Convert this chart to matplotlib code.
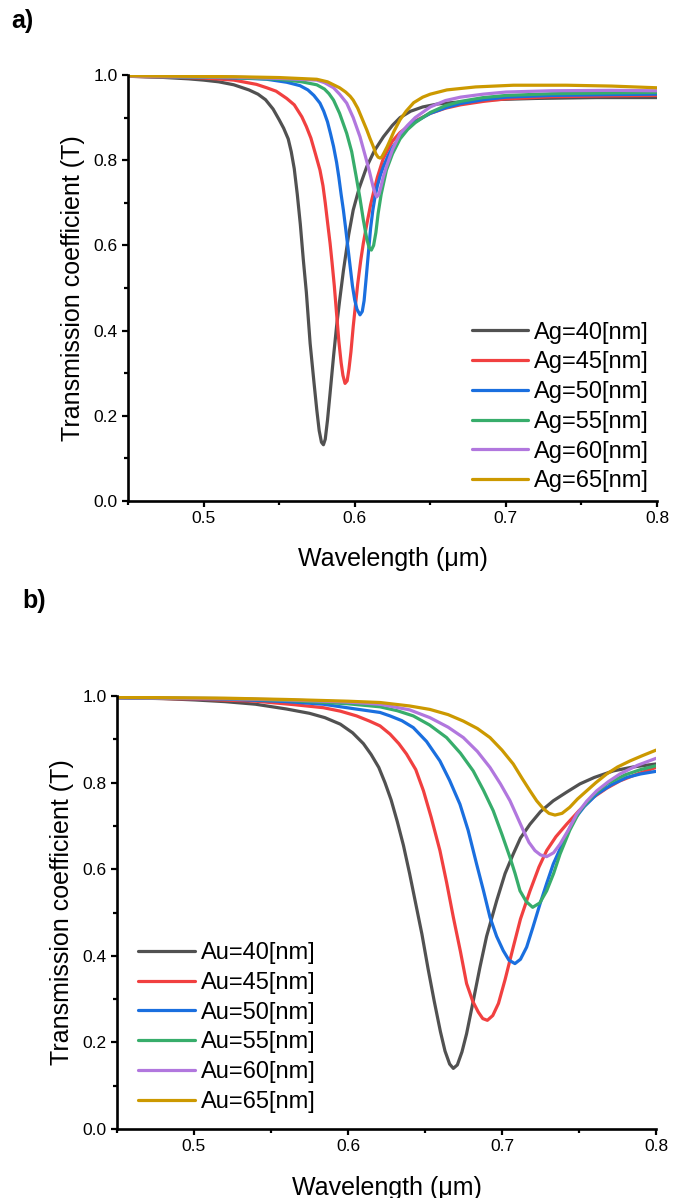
import matplotlib
matplotlib.use("Agg")
import matplotlib.pyplot as plt
from matplotlib.ticker import MultipleLocator

plt.rcParams['font.family'] = ['Liberation Sans', 'DejaVu Sans']

# ---------------- Panel a) : Ag thickness ----------------
ag_labels = ["Ag=40[nm]", "Ag=45[nm]", "Ag=50[nm]", "Ag=55[nm]", "Ag=60[nm]", "Ag=65[nm]"]

ag40_wl = [0.45, 0.47, 0.49, 0.50, 0.51, 0.52, 0.53, 0.536, 0.541, 0.546, 0.55, 0.553, 0.556,
           0.558, 0.56, 0.562, 0.564, 0.566, 0.568, 0.5705, 0.573, 0.5749, 0.5765, 0.578,
           0.5793, 0.5805, 0.582, 0.5837, 0.586, 0.588, 0.590, 0.5925, 0.596, 0.599, 0.603,
           0.608, 0.613, 0.619, 0.625, 0.63, 0.637, 0.645, 0.655, 0.67, 0.69, 0.72, 0.76, 0.80]
ag40_t = [0.997, 0.995, 0.991, 0.988, 0.984, 0.977, 0.965, 0.955, 0.942, 0.92, 0.895, 0.875, 0.85,
          0.82, 0.78, 0.72, 0.65, 0.566, 0.49, 0.37, 0.28, 0.214, 0.165, 0.138,
          0.132, 0.145, 0.19, 0.253, 0.34, 0.41, 0.47, 0.54, 0.625, 0.683, 0.735,
          0.785, 0.822, 0.855, 0.882, 0.90, 0.915, 0.925, 0.932, 0.937, 0.942, 0.945, 0.947, 0.947]

ag45_wl = [0.45, 0.50, 0.52, 0.535, 0.5418, 0.548, 0.555, 0.56, 0.565, 0.568, 0.571, 0.574,
           0.577, 0.579, 0.5805, 0.582, 0.5837, 0.585, 0.5865, 0.588, 0.5895, 0.591, 0.5922,
           0.5936, 0.595, 0.5962, 0.5975, 0.599, 0.6005, 0.602, 0.604, 0.6057, 0.608, 0.6105,
           0.6123, 0.615, 0.619, 0.625, 0.63, 0.64, 0.65, 0.66, 0.67, 0.685, 0.70, 0.73, 0.77, 0.80]
ag45_t = [0.997, 0.993, 0.988, 0.978, 0.970, 0.962, 0.945, 0.93, 0.902, 0.879, 0.852, 0.815,
          0.777, 0.74, 0.70, 0.655, 0.605, 0.56, 0.505, 0.44, 0.375, 0.325, 0.295,
          0.276, 0.282, 0.31, 0.35, 0.409, 0.46, 0.51, 0.565, 0.605, 0.65, 0.695,
          0.722, 0.76, 0.805, 0.845, 0.865, 0.892, 0.91, 0.922, 0.93, 0.938, 0.944, 0.949, 0.951, 0.952]

ag50_wl = [0.45, 0.50, 0.53, 0.5418, 0.555, 0.5638, 0.569, 0.573, 0.577, 0.5795, 0.582, 0.584,
           0.586, 0.588, 0.5895, 0.591, 0.5925, 0.594, 0.5955, 0.597, 0.5985, 0.600, 0.6015,
           0.6035, 0.605, 0.6062, 0.6075, 0.609, 0.6105, 0.612, 0.6135, 0.615, 0.617, 0.619,
           0.622, 0.625, 0.63, 0.635, 0.64, 0.65, 0.66, 0.67, 0.685, 0.70, 0.73, 0.77, 0.80]
ag50_t = [0.997, 0.995, 0.992, 0.99, 0.983, 0.975, 0.965, 0.952, 0.934, 0.915, 0.89, 0.862,
          0.832, 0.795, 0.76, 0.72, 0.683, 0.64, 0.595, 0.55, 0.505, 0.472, 0.45,
          0.437, 0.445, 0.47, 0.52, 0.58, 0.64, 0.683, 0.715, 0.74, 0.765, 0.785,
          0.81, 0.83, 0.855, 0.875, 0.89, 0.91, 0.923, 0.933, 0.942, 0.948, 0.952, 0.954, 0.955]

ag55_wl = [0.45, 0.52, 0.55, 0.565, 0.5749, 0.58, 0.583, 0.586, 0.59, 0.5947, 0.598, 0.601,
           0.6035, 0.6057, 0.608, 0.6095, 0.611, 0.6125, 0.614, 0.6155, 0.6175, 0.621, 0.625,
           0.63, 0.635, 0.64, 0.65, 0.66, 0.67, 0.685, 0.70, 0.73, 0.77, 0.80]
ag55_t = [0.997, 0.994, 0.99, 0.984, 0.977, 0.967, 0.956, 0.941, 0.91, 0.863, 0.82, 0.761,
          0.71, 0.66, 0.615, 0.595, 0.589, 0.60, 0.63, 0.675, 0.72, 0.777, 0.815,
          0.85, 0.872, 0.888, 0.912, 0.928, 0.938, 0.947, 0.952, 0.956, 0.958, 0.959]

ag60_wl = [0.45, 0.52, 0.55, 0.5749, 0.58, 0.586, 0.59, 0.5947, 0.599, 0.6035, 0.607, 0.61,
           0.612, 0.6135, 0.6146, 0.616, 0.6175, 0.619, 0.621, 0.625, 0.63, 0.635, 0.64, 0.65,
           0.66, 0.67, 0.685, 0.70, 0.73, 0.77, 0.80]
ag60_t = [0.997, 0.995, 0.992, 0.988, 0.982, 0.97, 0.955, 0.934, 0.90, 0.855, 0.81, 0.77,
          0.74, 0.722, 0.714, 0.72, 0.74, 0.762, 0.785, 0.825, 0.862, 0.882, 0.90, 0.925,
          0.94, 0.948, 0.955, 0.96, 0.963, 0.964, 0.963]

ag65_wl = [0.45, 0.52, 0.55, 0.5749, 0.582, 0.586, 0.59, 0.594, 0.597, 0.599, 0.602, 0.604,
           0.606, 0.608, 0.61, 0.6123, 0.614, 0.6155, 0.6168, 0.618, 0.6195, 0.6215, 0.6234,
           0.626, 0.63, 0.634, 0.639, 0.645, 0.65, 0.661, 0.68, 0.705, 0.74, 0.77, 0.80]
ag65_t = [0.998, 0.996, 0.994, 0.99, 0.984, 0.977, 0.97, 0.96, 0.95, 0.941, 0.922, 0.905,
          0.888, 0.871, 0.852, 0.832, 0.815, 0.807, 0.805, 0.808, 0.818, 0.832, 0.847,
          0.868, 0.895, 0.915, 0.935, 0.948, 0.955, 0.965, 0.972, 0.976, 0.976, 0.974, 0.970]

# ---------------- Panel b) : Au thickness ----------------
au_labels = ["Au=40[nm]", "Au=45[nm]", "Au=50[nm]", "Au=55[nm]", "Au=60[nm]", "Au=65[nm]"]

au40_wl = [0.45, 0.48, 0.50, 0.52, 0.54, 0.56, 0.575, 0.585, 0.595, 0.603, 0.61, 0.615, 0.62,
           0.624, 0.628, 0.632, 0.636, 0.64, 0.644, 0.648, 0.652, 0.656, 0.66, 0.663, 0.666,
           0.6684, 0.671, 0.674, 0.677, 0.681, 0.6857, 0.69, 0.6966, 0.702, 0.7073, 0.712,
           0.7182, 0.725, 0.7333, 0.742, 0.7506, 0.76, 0.7723, 0.785, 0.80]
au40_t = [0.996, 0.994, 0.991, 0.987, 0.981, 0.970, 0.960, 0.950, 0.935, 0.915, 0.89, 0.865, 0.835,
          0.80, 0.76, 0.71, 0.655, 0.59, 0.52, 0.45, 0.37, 0.295, 0.225, 0.18, 0.15,
          0.14, 0.148, 0.178, 0.22, 0.29, 0.374, 0.445, 0.528, 0.59, 0.635, 0.672,
          0.704, 0.733, 0.758, 0.778, 0.797, 0.812, 0.827, 0.836, 0.843]

au45_wl = [0.45, 0.50, 0.54, 0.565, 0.584, 0.595, 0.6056, 0.614, 0.6208, 0.6273, 0.633, 0.638,
           0.644, 0.649, 0.654, 0.6597, 0.664, 0.6684, 0.673, 0.677, 0.681, 0.6846, 0.6875,
           0.6905, 0.694, 0.6977, 0.702, 0.7073, 0.712, 0.7182, 0.724, 0.729, 0.735, 0.742,
           0.75, 0.7593, 0.768, 0.7766, 0.788, 0.80]
au45_t = [0.996, 0.993, 0.988, 0.98, 0.973, 0.965, 0.954, 0.942, 0.931, 0.912, 0.89, 0.866,
          0.83, 0.781, 0.72, 0.643, 0.57, 0.489, 0.41, 0.336, 0.295, 0.27, 0.255,
          0.251, 0.262, 0.29, 0.345, 0.42, 0.485, 0.55, 0.605, 0.643, 0.675, 0.704,
          0.735, 0.766, 0.787, 0.804, 0.82, 0.835]

au50_wl = [0.45, 0.52, 0.56, 0.584, 0.605, 0.6208, 0.6273, 0.635, 0.6424, 0.651, 0.6597, 0.666,
           0.6727, 0.678, 0.6835, 0.688, 0.6922, 0.6965, 0.7008, 0.7045, 0.7084, 0.712, 0.716,
           0.72, 0.7247, 0.729, 0.7333, 0.74, 0.7463, 0.7535, 0.7615, 0.771, 0.781, 0.79, 0.80]
au50_t = [0.996, 0.993, 0.987, 0.981, 0.97, 0.962, 0.954, 0.943, 0.927, 0.895, 0.85, 0.805,
          0.75, 0.69, 0.612, 0.55, 0.489, 0.445, 0.412, 0.39, 0.382, 0.392, 0.42,
          0.465, 0.52, 0.567, 0.612, 0.665, 0.712, 0.745, 0.773, 0.795, 0.812, 0.82, 0.826]

au55_wl = [0.45, 0.52, 0.56, 0.60, 0.6208, 0.632, 0.6424, 0.653, 0.664, 0.673, 0.6813, 0.688,
           0.6943, 0.70, 0.7052, 0.7085, 0.7117, 0.7158, 0.7199, 0.7245, 0.729, 0.7335, 0.7377,
           0.744, 0.7506, 0.759, 0.768, 0.78, 0.79, 0.80]
au55_t = [0.996, 0.994, 0.99, 0.982, 0.975, 0.966, 0.954, 0.933, 0.904, 0.868, 0.827, 0.782,
          0.735, 0.68, 0.627, 0.59, 0.55, 0.525, 0.512, 0.522, 0.55, 0.59, 0.635,
          0.69, 0.735, 0.77, 0.797, 0.818, 0.83, 0.839]

au60_wl = [0.45, 0.52, 0.56, 0.60, 0.6208, 0.64, 0.6532, 0.665, 0.6749, 0.684, 0.6922, 0.699,
           0.7052, 0.71, 0.7139, 0.7175, 0.7214, 0.725, 0.729, 0.7335, 0.7377, 0.743, 0.7485,
           0.755, 0.7615, 0.769, 0.7766, 0.788, 0.80]
au60_t = [0.996, 0.994, 0.991, 0.986, 0.981, 0.968, 0.95, 0.928, 0.904, 0.872, 0.835, 0.797,
          0.758, 0.72, 0.689, 0.662, 0.643, 0.633, 0.629, 0.638, 0.658, 0.69, 0.727,
          0.757, 0.781, 0.802, 0.82, 0.84, 0.856]

au65_wl = [0.45, 0.52, 0.56, 0.60, 0.6208, 0.64, 0.6532, 0.665, 0.6749, 0.684, 0.6922, 0.70,
           0.7073, 0.713, 0.7182, 0.7225, 0.7268, 0.7305, 0.7344, 0.739, 0.744, 0.749, 0.755,
           0.761, 0.768, 0.775, 0.7831, 0.791, 0.80]
au65_t = [0.997, 0.995, 0.992, 0.988, 0.985, 0.977, 0.969, 0.957, 0.942, 0.925, 0.904, 0.875,
          0.843, 0.81, 0.781, 0.758, 0.74, 0.729, 0.725, 0.729, 0.743, 0.762, 0.781,
          0.80, 0.82, 0.836, 0.85, 0.862, 0.875]

colors = ["#515151", "#F14040", "#1A6FDF", "#37AD6B", "#B177DE", "#CC9900"]

ag_series = [(ag40_wl, ag40_t), (ag45_wl, ag45_t), (ag50_wl, ag50_t),
             (ag55_wl, ag55_t), (ag60_wl, ag60_t), (ag65_wl, ag65_t)]
au_series = [(au40_wl, au40_t), (au45_wl, au45_t), (au50_wl, au50_t),
             (au55_wl, au55_t), (au60_wl, au60_t), (au65_wl, au65_t)]

W, H = 683, 1198
fig = plt.figure(figsize=(W / 100, H / 100), dpi=100)


def px_axes(left, top, right, bottom):
    return fig.add_axes([left / W, 1 - bottom / H, (right - left) / W, (bottom - top) / H])


def style(ax):
    ax.set_xlim(0.45, 0.8)
    ax.set_ylim(0.0, 1.0)
    for s in ["top", "right"]:
        ax.spines[s].set_visible(False)
    for s in ["left", "bottom"]:
        ax.spines[s].set_linewidth(1.9)
    ax.xaxis.set_major_locator(MultipleLocator(0.1))
    ax.xaxis.set_minor_locator(MultipleLocator(0.05))
    ax.yaxis.set_major_locator(MultipleLocator(0.2))
    ax.yaxis.set_minor_locator(MultipleLocator(0.1))
    ax.xaxis.set_major_formatter(plt.FuncFormatter(lambda v, p: f"{v:.1f}"))
    ax.yaxis.set_major_formatter(plt.FuncFormatter(lambda v, p: f"{v:.1f}"))
    ax.tick_params(which="major", direction="out", length=4.5, width=1.6, labelsize=12.5, pad=3)
    ax.tick_params(which="minor", direction="out", length=2.8, width=1.6)
    ax.set_xlabel("Wavelength (\u03bcm)", fontsize=18)
    ax.set_ylabel("Transmission coefficient (T)", fontsize=18)


# Panel a
ax1 = px_axes(128, 75, 657, 501)
for (wl, t), c, lab in zip(ag_series, colors, ag_labels):
    ax1.plot(wl, t, color=c, lw=2.3, label=lab, solid_joinstyle="round", solid_capstyle="round")
style(ax1)
ax1.xaxis.set_label_coords(0.5, -0.108)
ax1.yaxis.set_label_coords(-0.082, 0.5)
ax1.legend(loc="lower right", bbox_to_anchor=(0.985, 0.02), frameon=False, fontsize=17,
           handlelength=2.4, handletextpad=0.25, labelspacing=0.33, borderpad=0, borderaxespad=0)

# Panel b
ax2 = px_axes(117, 696, 656, 1129)
for (wl, t), c, lab in zip(au_series, colors, au_labels):
    ax2.plot(wl, t, color=c, lw=2.3, label=lab, solid_joinstyle="round", solid_capstyle="round")
style(ax2)
ax2.xaxis.set_label_coords(0.5, -0.108)
ax2.yaxis.set_label_coords(-0.079, 0.5)
ax2.legend(loc="lower left", bbox_to_anchor=(0.039, 0.037), frameon=False, fontsize=17,
           handlelength=2.4, handletextpad=0.25, labelspacing=0.33, borderpad=0, borderaxespad=0)

fig.text(22 / W, 1 - 21 / H, "a)", fontsize=18, fontweight="bold", ha="center", va="center")
fig.text(34 / W, 1 - 601 / H, "b)", fontsize=18, fontweight="bold", ha="center", va="center")

fig.savefig("out.png", dpi=100)
